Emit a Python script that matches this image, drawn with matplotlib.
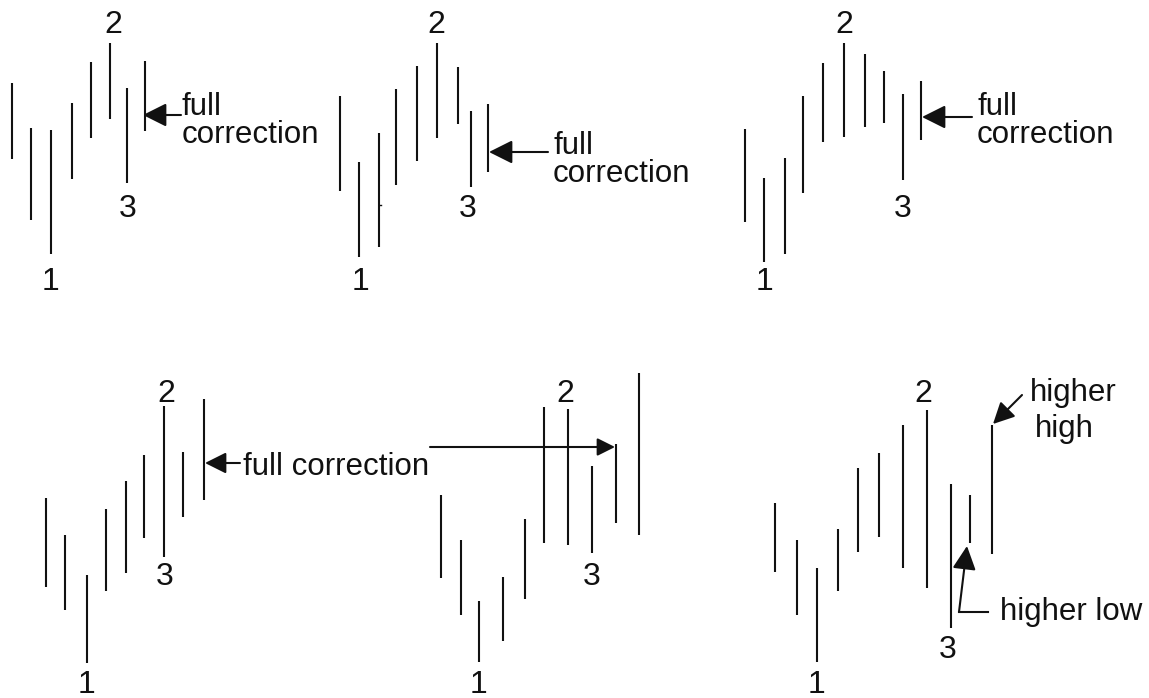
import matplotlib
matplotlib.use("Agg")
import matplotlib.pyplot as plt

# ---- data: bar positions (x), highs and lows (pixel units, y grows downward)
p1_x = [12, 31, 51, 72, 91, 110, 127, 145]
p1_high = [83, 128, 130, 103, 62, 43, 88, 61]
p1_low = [159, 220, 254, 179, 138, 119, 183, 131]

p2_x = [340, 359, 379, 396, 417, 437, 458, 471, 488]
p2_high = [96, 162, 133, 89, 66, 43, 67, 111, 104]
p2_low = [191, 257, 247, 185, 161, 138, 124, 187, 172]

p3_x = [745, 764, 785, 803, 823, 844, 865, 884, 903, 921]
p3_high = [129, 178, 158, 96, 63, 43, 54, 71, 94, 81]
p3_low = [222, 262, 254, 193, 142, 137, 127, 123, 180, 140]

p4_x = [46, 65, 87, 106, 126, 144, 164, 183, 204]
p4_high = [498, 535, 575, 509, 481, 455, 406, 452, 399]
p4_low = [587, 610, 663, 591, 573, 538, 557, 517, 500]

p5_x = [441, 461, 479, 503, 525, 544, 568, 592, 616, 639]
p5_high = [495, 540, 601, 577, 519, 407, 409, 466, 444, 373]
p5_low = [578, 615, 662, 641, 599, 543, 545, 553, 523, 535]

p6_x = [775, 797, 817, 838, 858, 879, 903, 927, 951, 970, 992]
p6_high = [503, 540, 568, 529, 468, 453, 425, 410, 484, 495, 425]
p6_low = [572, 615, 662, 591, 552, 537, 568, 588, 628, 543, 554]

panels = [
    (p1_x, p1_high, p1_low),
    (p2_x, p2_high, p2_low),
    (p3_x, p3_high, p3_low),
    (p4_x, p4_high, p4_low),
    (p5_x, p5_high, p5_low),
    (p6_x, p6_high, p6_low),
]

# swing point labels: (text, x, baseline y)
point_labels = [
    ("2", 113, 33), ("3", 128, 217), ("1", 51, 290),
    ("2", 436, 33), ("3", 468, 217), ("1", 360, 290),
    ("2", 844, 33), ("3", 903, 217), ("1", 764, 290),
    ("2", 166, 402), ("3", 165, 585), ("1", 86, 693),
    ("2", 565, 402), ("3", 592, 585), ("1", 478, 693),
    ("2", 923, 402), ("3", 948, 658), ("1", 817, 693),
]

# annotation texts: (text, left x, baseline y of the last line)
notes = [
    ("full\ncorrection", 182, 143),
    ("full\ncorrection", 553, 182),
    ("full\ncorrection", 977, 143),
    ("full correction", 243, 475),
    ("higher", 1030, 401),
    ("high", 1035, 437),
    ("higher low", 1000, 620),
]

# arrows: (tail x, tail y, tip x, tip y, head size)
arrows = [
    (181, 115, 143, 115, 20),
    (548, 152, 489, 152, 20),
    (972, 117, 922, 117, 20),
    (240, 463, 205, 463, 18),
    (430, 447, 615, 447, 15),
    (1022, 395, 993, 424, 18),
    (959, 612, 967, 546, 20),
]

# plain connector segments: (x0, y0, x1, y1)
segments = [
    (988, 612, 959, 612),
]

W, H, DPI = 1149, 698, 100
fig = plt.figure(figsize=(W / DPI, H / DPI), dpi=DPI)
fig.patch.set_facecolor("white")
ax = fig.add_axes([0, 0, 1, 1])
ax.set_xlim(0, W)
ax.set_ylim(H, 0)
ax.axis("off")

ink = "#111111"
font = ["Liberation Sans", "DejaVu Sans"]

for xs, hi, lo in panels:
    ax.vlines(xs, hi, lo, colors=ink, linewidth=1.5)

# small close tick on one bar of panel 2
ax.plot([p2_x[2], p2_x[2] + 2], [205, 205], color=ink, linewidth=1.0)

for t, x, y in point_labels:
    ax.text(x, y, t, ha="center", va="baseline", fontsize=23, family=font, color=ink)

for t, x, y in notes:
    ax.text(x, y, t, ha="left", va="baseline", fontsize=22.5, family=font, color=ink,
            linespacing=0.92, multialignment="left")

for x0, y0, x1, y1 in segments:
    ax.plot([x0, x1], [y0, y1], color=ink, linewidth=1.5)

px_to_pt = 72.0 / DPI
for x0, y0, x1, y1, hs in arrows:
    hl = hs * px_to_pt
    ax.annotate("", xy=(x1, y1), xytext=(x0, y0), xycoords="data", textcoords="data",
                arrowprops=dict(arrowstyle=f"-|>,head_length={hl/10:.3f},head_width={hl/20:.3f}",
                                mutation_scale=10, color=ink, linewidth=1.5,
                                shrinkA=0, shrinkB=0))

fig.savefig("out.png", dpi=DPI, facecolor="white")
